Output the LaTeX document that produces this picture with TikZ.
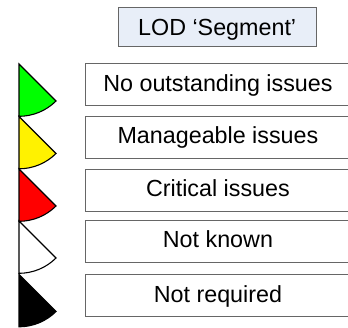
\documentclass[tikz,border=0pt]{standalone}
\usepackage{amsmath}
\usepackage{fontspec}
\setmainfont{Liberation Sans}
\definecolor{lodfill}{RGB}{232,238,248}
\tikzset{
  lodbox/.style={draw=black!60,line width=0.9,minimum width=265,minimum height=42,inner sep=0pt,text height=17,text depth=4.4,font=\fontsize{23.3}{26}\selectfont,anchor=north west},
  lodhead/.style={draw=black!60,fill=lodfill,line width=0.9,minimum width=198.5,minimum height=39,inner sep=0pt,text height=18,text depth=2,font=\fontsize{23.3}{26}\selectfont,anchor=north west},
  lodflag/.style={draw=black,line width=1.1}
}
\begin{document}
\begin{tikzpicture}[x=1pt,y=1pt]
\useasboundingbox (0,-328) rectangle (348,0);
\fill [white] (0,-328) rectangle (348,0);
\node [lodhead] (head) at (117.5,-7.5) {LOD `Segment'};
\node [lodbox] (none) at (85,-63.5) {No outstanding issues};
\node [lodbox] (manage) at (85,-116) {Manageable issues};
\node [lodbox] (critical) at (85,-169) {Critical issues};
\node [lodbox] (unknown) at (85,-220) {Not known};
\node [lodbox] (notreq) at (85,-274.3) {Not required};
\draw [lodflag,fill=green] (19,-64) -- (56,-101) arc (-45:-90:52.3) -- cycle;
\draw [lodflag,fill=yellow] (19,-116.5) -- (56,-153.5) arc (-45:-90:52.3) -- cycle;
\draw [lodflag,fill=red] (19,-169) -- (56,-206) arc (-45:-90:52.3) -- cycle;
\draw [lodflag,fill=white] (19,-221) -- (56,-258) arc (-45:-90:52.3) -- cycle;
\draw [lodflag,fill=black] (19,-274.5) -- (56,-311.5) arc (-45:-90:52.3) -- cycle;
\end{tikzpicture}
\end{document}
